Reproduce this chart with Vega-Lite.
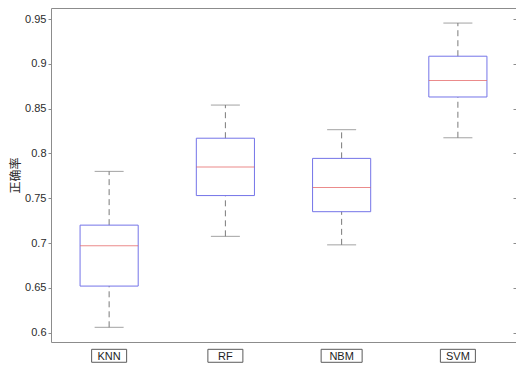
{
  "$schema": "https://vega.github.io/schema/vega-lite/v6.json",
  "width": 465,
  "height": 334,
  "autosize": "none",
  "padding": {"left": 51, "top": 8, "right": 0, "bottom": 23},
  "background": "white",
  "config": {"view": {"stroke": null}},
  "data": {"values": [
    {"model": "KNN", "lo": 0.606, "q1": 0.652, "med": 0.697, "q3": 0.720, "hi": 0.780},
    {"model": "RF", "lo": 0.7075, "q1": 0.753, "med": 0.785, "q3": 0.817, "hi": 0.854},
    {"model": "NBM", "lo": 0.698, "q1": 0.735, "med": 0.762, "q3": 0.7945, "hi": 0.8265},
    {"model": "SVM", "lo": 0.8175, "q1": 0.863, "med": 0.8815, "q3": 0.9085, "hi": 0.9455}
  ]},
  "encoding": {
    "x": {"field": "model", "type": "nominal", "sort": ["KNN", "RF", "NBM", "SVM"],
          "scale": {"paddingInner": 0, "paddingOuter": 0}, "axis": null}
  },
  "layer": [
    {
      "mark": {"type": "rule", "color": "#7a7a7a", "strokeWidth": 1, "strokeDash": [6, 4]},
      "encoding": {
        "x": {"field": "model", "type": "nominal", "sort": ["KNN", "RF", "NBM", "SVM"],
              "scale": {"paddingInner": 0, "paddingOuter": 0},
              "axis": {"orient": "bottom", "labels": false, "ticks": false, "domain": true,
                       "domainColor": "#8c8c8c", "domainWidth": 1, "title": null, "grid": false}},
        "y": {"field": "lo", "type": "quantitative",
              "scale": {"domain": [0.5896, 0.9623], "nice": false, "zero": false},
              "axis": {"orient": "left", "values": [0.6, 0.65, 0.7, 0.75, 0.8, 0.85, 0.9, 0.95],
                       "format": "~g", "grid": false, "domain": true, "domainColor": "#8c8c8c",
                       "tickColor": "#8c8c8c", "tickSize": 3, "labelPadding": 2,
                       "labelFont": "Liberation Sans", "labelFontSize": 11, "labelColor": "#2b2b2b",
                       "title": "正确率", "titleFont": "Noto Sans CJK SC", "titleFontSize": 12,
                       "titleFontWeight": "normal", "titleColor": "#2b2b2b", "titlePadding": 2}},
        "y2": {"field": "q1"}
      }
    },
    {
      "mark": {"type": "rule", "color": "#7a7a7a", "strokeWidth": 1, "strokeDash": [6, 4]},
      "encoding": {
        "y": {"field": "q3", "type": "quantitative",
              "scale": {"domain": [0.5896, 0.9623], "nice": false, "zero": false}, "axis": null},
        "y2": {"field": "hi"}
      }
    },
    {
      "mark": {"type": "tick", "color": "#7a7a7a", "size": 29, "thickness": 1, "orient": "horizontal"},
      "encoding": {
        "y": {"field": "lo", "type": "quantitative",
              "scale": {"domain": [0.5896, 0.9623], "nice": false, "zero": false}, "axis": null}
      }
    },
    {
      "mark": {"type": "tick", "color": "#7a7a7a", "size": 29, "thickness": 1, "orient": "horizontal"},
      "encoding": {
        "y": {"field": "hi", "type": "quantitative",
              "scale": {"domain": [0.5896, 0.9623], "nice": false, "zero": false}, "axis": null}
      }
    },
    {
      "mark": {"type": "bar", "width": {"band": 0.5}, "fill": "white", "fillOpacity": 0,
               "stroke": "#7474e8", "strokeWidth": 1},
      "encoding": {
        "y": {"field": "q1", "type": "quantitative",
              "scale": {"domain": [0.5896, 0.9623], "nice": false, "zero": false}, "axis": null},
        "y2": {"field": "q3"}
      }
    },
    {
      "mark": {"type": "tick", "color": "#e25a5a", "size": 58, "thickness": 1, "orient": "horizontal"},
      "encoding": {
        "y": {"field": "med", "type": "quantitative",
              "scale": {"domain": [0.5896, 0.9623], "nice": false, "zero": false}, "axis": null}
      }
    },
    {
      "mark": {"type": "point", "filled": false, "stroke": "#5a5a5a", "strokeWidth": 1, "opacity": 1, "clip": false},
      "encoding": {
        "y": {"datum": 0.5742, "type": "quantitative",
              "scale": {"domain": [0.5896, 0.9623], "nice": false, "zero": false}, "axis": null},
        "shape": {"condition": {"test": "datum.model === 'NBM'", "value": "M-1,-0.317H1V0.317H-1Z"},
                  "value": "M-1,-0.37H1V0.37H-1Z"},
        "size": {"condition": {"test": "datum.model === 'NBM'", "value": 1681}, "value": 1225}
      }
    },
    {
      "mark": {"type": "text", "font": "Liberation Sans", "fontSize": 11, "color": "#1e1e1e",
               "baseline": "middle", "align": "center", "dy": 1, "clip": false},
      "encoding": {
        "y": {"datum": 0.5742, "type": "quantitative",
              "scale": {"domain": [0.5896, 0.9623], "nice": false, "zero": false}, "axis": null},
        "text": {"field": "model"}
      }
    },
    {
      "mark": {"type": "tick", "opacity": 0},
      "encoding": {
        "x": {"field": "model", "type": "nominal", "sort": ["KNN", "RF", "NBM", "SVM"],
              "scale": {"paddingInner": 0, "paddingOuter": 0},
              "axis": {"orient": "top", "labels": false, "ticks": false, "domain": true,
                       "domainColor": "#8c8c8c", "title": null, "grid": false}},
        "y": {"field": "med", "type": "quantitative",
              "scale": {"domain": [0.5896, 0.9623], "nice": false, "zero": false},
              "axis": {"orient": "right", "values": [0.6, 0.65, 0.7, 0.75, 0.8, 0.85, 0.9, 0.95],
                       "labels": false, "domain": false, "grid": false, "tickColor": "#8c8c8c",
                       "tickSize": -3, "title": null}}
      }
    }
  ],
  "resolve": {"axis": {"x": "independent", "y": "independent"}}
}
